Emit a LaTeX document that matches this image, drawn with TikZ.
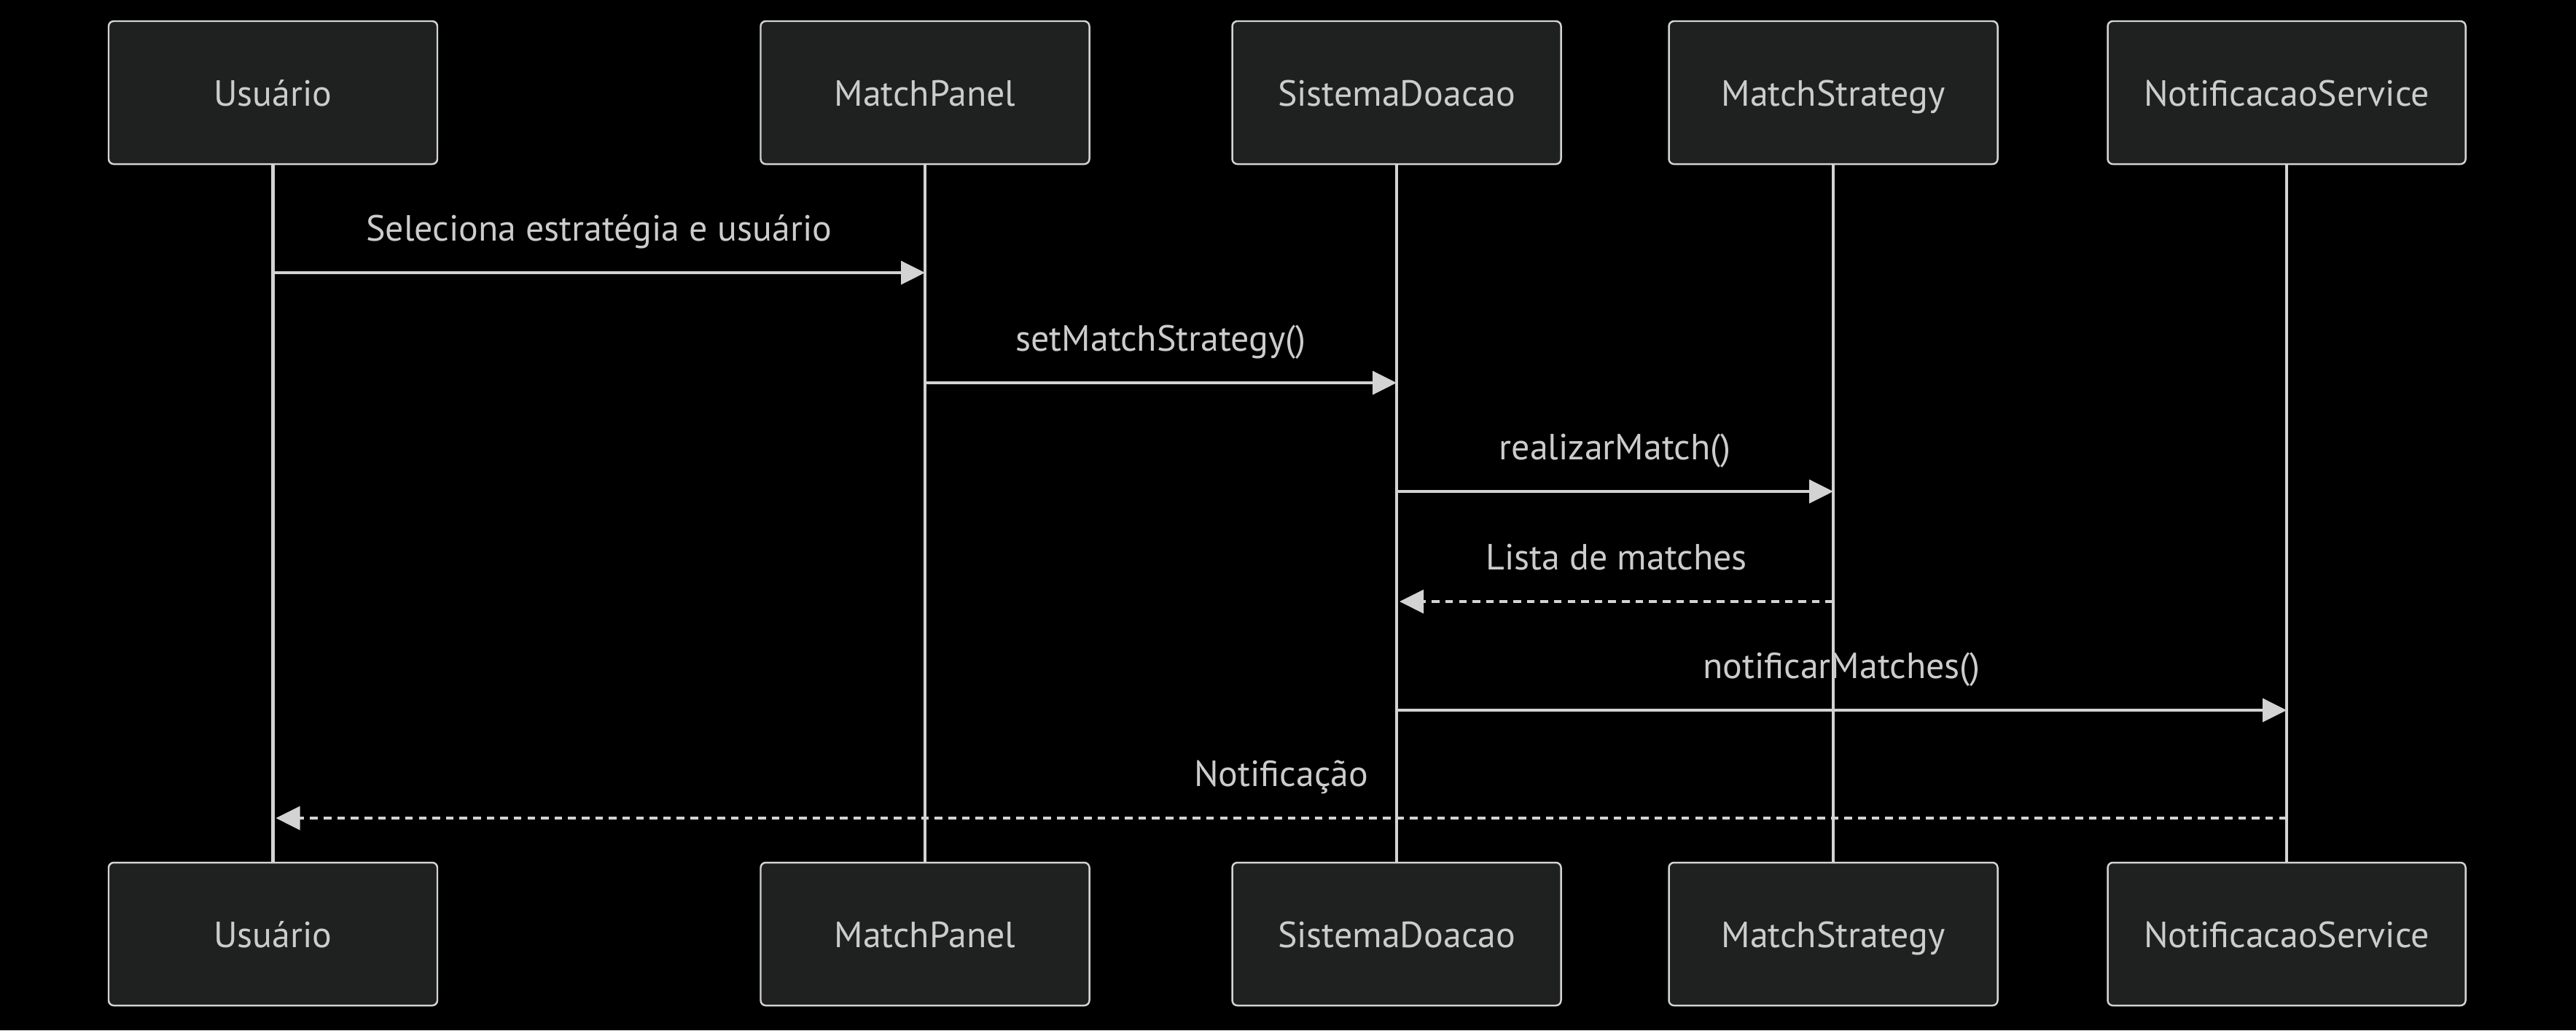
\documentclass[tikz,border=0pt]{standalone}
\usepackage{fontspec}
\setmainfont{PT Sans}
\usepackage{xcolor}
\usetikzlibrary{positioning,arrows.meta}

\definecolor{actorfill}{HTML}{1F2020}
\definecolor{linegray}{HTML}{D3D3D3}
\definecolor{textgray}{HTML}{CCCCCC}

\tikzset{
	actor/.style={draw=linegray, line width=0.7pt, fill=actorfill,
		rounded corners=0.07cm, minimum width=4.51cm, minimum height=1.96cm,
		inner sep=0pt, text height=0.36cm, text depth=0pt,
		text=textgray, font=\fontsize{14.2pt}{17pt}\selectfont},
	lifeline/.style={draw=linegray, line width=1.3pt},
	msg/.style={draw=linegray, line width=1.1pt,
		-{Triangle[length=0.33cm,width=0.32cm]}},
	reply/.style={msg, dash pattern=on 3pt off 2.3pt},
	msglabel/.style={midway, yshift=0.44cm, anchor=base, inner sep=0pt,
		text=textgray, font=\fontsize{14.2pt}{17pt}\selectfont}
}

\begin{document}
\begin{tikzpicture}
	
	\useasboundingbox[fill=black] (0,0) rectangle (35.34,-14.13);
	
	% participants, top row
	\node[actor] (usrT) at (3.745,-1.27) {Usuário};
	\node[actor] (mpT) at (12.69,-1.27) {MatchPanel};
	\node[actor] (sdT) at (19.16,-1.27) {SistemaDoacao};
	\node[actor] (msT) at (25.15,-1.27) {MatchStrategy};
	\node[actor, minimum width=4.91cm] (nsT) at (31.37,-1.27) {NotificacaoService};
	
	% participants, bottom row
	\node[actor] (usrB) at (3.745,-12.81) {Usuário};
	\node[actor] (mpB) at (12.69,-12.81) {MatchPanel};
	\node[actor] (sdB) at (19.16,-12.81) {SistemaDoacao};
	\node[actor] (msB) at (25.15,-12.81) {MatchStrategy};
	\node[actor, minimum width=4.91cm] (nsB) at (31.37,-12.81) {NotificacaoService};
	
	% lifelines
	\draw[lifeline] (usrT.south) -- (usrB.north);
	\draw[lifeline] (mpT.south) -- (mpB.north);
	\draw[lifeline] (sdT.south) -- (sdB.north);
	\draw[lifeline] (msT.south) -- (msB.north);
	\draw[lifeline] (nsT.south) -- (nsB.north);
	
	% message ends
	\coordinate (m1s) at (usrT.south |- 0,-3.74);
	\coordinate (m1e) at (mpT.south |- 0,-3.74);
	\coordinate (m2s) at (mpT.south |- 0,-5.25);
	\coordinate (m2e) at (sdT.south |- 0,-5.25);
	\coordinate (m3s) at (sdT.south |- 0,-6.74);
	\coordinate (m3e) at (msT.south |- 0,-6.74);
	\coordinate (m4s) at (msT.south |- 0,-8.25);
	\coordinate (m4e) at ([xshift=0.04cm]sdT.south |- 0,-8.25);
	\coordinate (m5s) at (sdT.south |- 0,-9.74);
	\coordinate (m5e) at (nsT.south |- 0,-9.74);
	\coordinate (m6s) at (nsT.south |- 0,-11.22);
	\coordinate (m6e) at ([xshift=0.04cm]usrT.south |- 0,-11.22);
	
	% messages
	\draw[msg] (m1s) -- node[msglabel] {Seleciona estratégia e usuário} (m1e);
	\draw[msg] (m2s) -- node[msglabel] {setMatchStrategy()} (m2e);
	\draw[msg] (m3s) -- node[msglabel] {realizarMatch()} (m3e);
	\draw[reply] (m4s) -- node[msglabel] {Lista de matches} (m4e);
	\draw[msg] (m5s) -- node[msglabel] {notificarMatches()} (m5e);
	\draw[reply] (m6s) -- node[msglabel] {Notificação} (m6e);
	
\end{tikzpicture}
\end{document}
